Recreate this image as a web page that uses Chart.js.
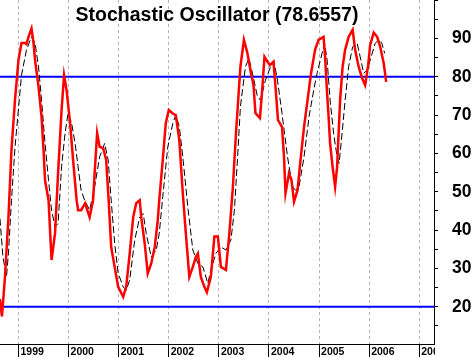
<!DOCTYPE html>
<html><head><meta charset="utf-8">
<script src="https://cdn.jsdelivr.net/npm/chart.js@4/dist/chart.umd.min.js"></script>
<style>html,body{margin:0;padding:0;background:#fff}canvas{display:block}</style>
</head><body>
<canvas id="c" width="475" height="357"></canvas>
<script>
const chartTitle = 'Stochastic Oscillator (78.6557)';

// %K (red)
const kDates = [1998.63,1998.67,1998.73,1998.80,1998.86,1998.93,1999.00,1999.06,1999.13,1999.16,1999.20,1999.26,1999.30,1999.33,1999.40,1999.46,1999.50,1999.53,1999.60,1999.66,1999.73,1999.79,1999.86,1999.91,1999.96,2000.03,2000.09,2000.16,2000.19,2000.25,2000.33,2000.42,2000.49,2000.52,2000.57,2000.62,2000.69,2000.75,2000.80,2000.85,2000.92,2000.99,2001.09,2001.15,2001.22,2001.29,2001.35,2001.42,2001.45,2001.52,2001.58,2001.65,2001.72,2001.78,2001.81,2001.88,2001.94,2002.00,2002.08,2002.14,2002.21,2002.28,2002.34,2002.41,2002.48,2002.54,2002.58,2002.64,2002.71,2002.76,2002.84,2002.91,2002.98,2003.04,2003.14,2003.21,2003.28,2003.34,2003.43,2003.50,2003.57,2003.64,2003.69,2003.73,2003.82,2003.87,2003.91,2003.97,2004.02,2004.09,2004.13,2004.18,2004.26,2004.30,2004.33,2004.40,2004.45,2004.50,2004.57,2004.63,2004.70,2004.77,2004.84,2004.92,2004.99,2005.09,2005.12,2005.16,2005.19,2005.22,2005.27,2005.32,2005.36,2005.39,2005.42,2005.47,2005.52,2005.59,2005.67,2005.72,2005.79,2005.86,2005.92,2005.98,2006.02,2006.09,2006.16,2006.22,2006.29,2006.34];
const kValues = [22,17.5,27.7,43.4,60.9,73.9,84.4,88.8,88.8,88.5,90.4,92.6,88.8,84.4,77.4,69.6,60.9,53,47.8,32.2,39.2,54.8,71.3,80.4,76.5,67.9,58.3,47.8,45.2,45.2,47,43.4,47.8,54.8,65.3,61.7,61.4,58.3,47.8,35.6,30.4,25.2,22.6,25.2,33.9,43.4,47,47.8,43.4,36.5,28.7,31.3,35.6,42.6,47.8,58.3,67.9,71.3,70.4,70,63.5,49.6,39.2,27.8,30.4,33,33.9,27.8,25.2,23.8,27.8,38.3,38.3,30.4,29.6,39.2,51.3,65,82.6,89.6,86.1,80.9,78,70.5,69.2,77.4,85.2,83.9,83,83.9,77.4,68.7,66.9,59.1,49.6,54.8,53,47.4,50.4,58.3,66.9,73.9,80.9,87,89.6,90.4,85.2,75.7,69.6,62.6,56.5,51.3,56.5,65.3,73.9,82.6,87,90.4,92.2,87,82.6,79.6,77.8,83,88.3,91.5,90.4,87.8,83.5,78.66];

// %D (black dashed)
const dDates = [1998.63,1998.69,1998.76,1998.80,1998.86,1998.93,1999.00,1999.06,1999.16,1999.26,1999.33,1999.40,1999.46,1999.53,1999.60,1999.66,1999.73,1999.79,1999.86,1999.93,1999.99,2000.06,2000.13,2000.19,2000.25,2000.32,2000.42,2000.52,2000.62,2000.72,2000.79,2000.85,2000.92,2000.99,2001.09,2001.15,2001.22,2001.32,2001.42,2001.49,2001.55,2001.65,2001.75,2001.81,2001.88,2001.98,2002.08,2002.14,2002.21,2002.28,2002.38,2002.48,2002.58,2002.68,2002.78,2002.84,2002.94,2003.04,2003.14,2003.24,2003.31,2003.37,2003.43,2003.53,2003.60,2003.67,2003.77,2003.83,2003.93,2004.03,2004.10,2004.17,2004.26,2004.37,2004.47,2004.53,2004.60,2004.70,2004.80,2004.90,2004.96,2005.06,2005.11,2005.16,2005.22,2005.29,2005.36,2005.40,2005.46,2005.52,2005.59,2005.67,2005.76,2005.82,2005.89,2005.96,2006.02,2006.12,2006.19,2006.25,2006.31];
const dValues = [43,33,27.8,34,47.8,61.5,71.7,80.4,87,90.4,88.8,82.6,74,62.6,53,45.2,40.9,41.7,56.5,65.3,70.5,67.9,62.6,56.5,50.4,47.8,45.2,51.3,59.1,62.6,58.3,47.8,36.5,28.7,25.2,24.3,27,37.4,43.4,44.3,39.1,33,34.8,39.2,48.7,61.7,67.8,70,67,59.1,46,34.8,31.3,30.4,26.1,29.6,33.9,35.6,34.8,37.4,45.2,58.3,72.2,82.6,84.8,80.9,74.8,73.9,79.1,82.6,83.9,79.1,70.4,59.1,51.3,50.4,51.3,59.1,69.6,77,80.9,86.1,88.7,84.4,73.9,65.2,59.1,57.4,65.3,73.9,82.6,87.8,88.7,85.2,80.9,81.7,84.3,88.7,89.6,88.8,86.1];

const yearTicks = [1999,2000,2001,2002,2003,2004,2005,2006,2007];
const yearLabels = ['1999','2000','2001','2002','2003','2004','2005','2006','2007'];
const valueTicks = [15,20,25,30,35,40,45,50,55,60,65,70,75,80,85,90,95,100];
const valueLabels = [20,30,40,50,60,70,80,90];
const levels = [80, 20];

const xMin = 1998.631, xMax = 2007.294;
const yMin = 10.3, yMax = 100;

const pts = (xs, ys) => xs.map((x, i) => ({x: x, y: ys[i]}));

const datasets = [
  {data: pts(kDates, kValues), borderColor: '#ff0000', borderWidth: 2.5, order: 0},
  {data: pts(dDates, dValues), borderColor: '#000000', borderWidth: 1, borderDash: [7, 3], order: 1}
].concat(levels.map(l => ({data: [{x: xMin, y: l}, {x: xMax, y: l}], borderColor: '#0000ff', borderWidth: 2, order: 2})));
datasets.forEach(d => { d.pointRadius = 0; d.tension = 0; d.fill = false; });

const overlay = {
  id: 'overlay',
  afterDraw(chart) {
    const ctx = chart.ctx, a = chart.chartArea;
    ctx.save();
    ctx.fillStyle = '#ffffff';
    ctx.fillRect(a.right + 1, a.bottom + 1, chart.width - a.right, chart.height - a.bottom);
    ctx.fillStyle = '#000000';
    ctx.font = 'bold 19.5px "Liberation Sans", Arial, sans-serif';
    ctx.textAlign = 'center';
    ctx.textBaseline = 'alphabetic';
    ctx.fillText(chartTitle, (a.left + a.right) / 2, a.top + 21);
    ctx.restore();
  }
};

const noPad = s => { s.paddingTop = 0; s.paddingBottom = 0; s.paddingLeft = 0; s.paddingRight = 0; };

new Chart(document.getElementById('c'), {
  type: 'line',
  data: {datasets: datasets},
  plugins: [overlay],
  options: {
    responsive: false,
    animation: false,
    devicePixelRatio: 1,
    layout: {padding: 0},
    plugins: {legend: {display: false}, tooltip: {enabled: false}, title: {display: false}},
    scales: {
      x: {
        type: 'linear', min: xMin, max: xMax, position: 'bottom',
        afterBuildTicks: s => { s.ticks = yearTicks.map(v => ({value: v})); },
        afterFit: s => { s.height = 13; noPad(s); },
        grid: {color: '#b4b4b4', lineWidth: 1, drawTicks: true, tickLength: 13, tickColor: '#000000', tickWidth: 1, tickBorderDash: []},
        border: {display: true, color: '#000000', width: 1, dash: [3, 3]},
        ticks: {
          align: 'start', labelOffset: 2, padding: -11, maxRotation: 0, autoSkip: false,
          color: '#000000', font: {family: '"Liberation Sans", Arial, sans-serif', size: 10.5, weight: 'bold'},
          callback: v => { const i = yearTicks.indexOf(v); return i >= 0 ? yearLabels[i] : ''; }
        }
      },
      y: {
        type: 'linear', min: yMin, max: yMax, position: 'right',
        afterBuildTicks: s => { s.ticks = valueTicks.map(v => ({value: v})); },
        afterFit: s => { s.width = 41; noPad(s); },
        grid: {drawOnChartArea: false, drawTicks: true, tickLength: 4, tickColor: '#000000'},
        border: {display: true, color: '#000000', width: 1},
        ticks: {
          padding: 14, autoSkip: false, color: '#000000',
          font: {family: '"Liberation Sans", Arial, sans-serif', size: 17.5, weight: 'bold'},
          callback: v => valueLabels.indexOf(v) >= 0 ? String(v) : ''
        }
      }
    }
  }
});
</script>
</body></html>
